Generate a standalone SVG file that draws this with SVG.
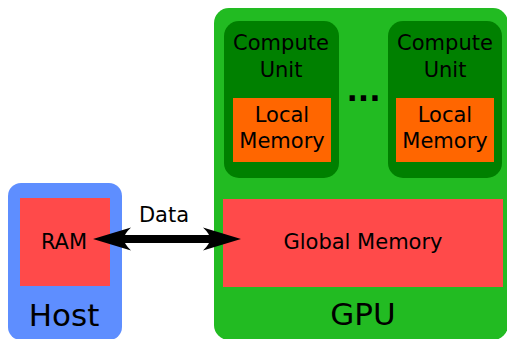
<svg xmlns="http://www.w3.org/2000/svg" width="507" height="339" viewBox="0 0 507 339">
<style>
text{font-family:"DejaVu Sans","Liberation Sans",sans-serif;fill:#000;text-anchor:middle}
.t20{font-size:21px}
.t30{font-size:31px}
.mem{fill:#ff4a4a}
.cu{fill:#008000}
.lm{fill:#ff6600}
</style>
<defs>
<path id="head" d="M0,0 L-38,-11.5 Q-31,-5 -31,0 Q-31,5 -38,11.5 Z" fill="#000"/>
</defs>
<g id="host">
<rect x="8" y="183" width="114" height="157" rx="13" fill="#5e8eff"/>
<text class="t30" x="64" y="326">Host</text>
</g>
<g id="ram">
<rect class="mem" x="20" y="198" width="90" height="88"/>
<text class="t20" x="64" y="249">RAM</text>
</g>
<g id="gpu">
<rect x="214" y="8" width="294" height="332" rx="15" fill="#22bb22"/>
<text class="t30" x="363" y="325">GPU</text>
</g>
<g id="cu1">
<rect class="cu" x="224" y="21" width="115" height="157" rx="15"/>
<text class="t20" x="281" y="50">Compute</text>
<text class="t20" x="281" y="77">Unit</text>
</g>
<g id="lm1">
<rect class="lm" x="233" y="98" width="98" height="64"/>
<text class="t20" x="282" y="122">Local</text>
<text class="t20" x="282" y="148">Memory</text>
</g>
<g id="dots">
<text x="363.5" y="100.5" style="font-size:30px;font-weight:bold">...</text>
</g>
<g id="cu2">
<rect class="cu" x="388" y="21" width="114" height="157" rx="15"/>
<text class="t20" x="445" y="50">Compute</text>
<text class="t20" x="445" y="77">Unit</text>
</g>
<g id="lm2">
<rect class="lm" x="396" y="98" width="98" height="64"/>
<text class="t20" x="445" y="122">Local</text>
<text class="t20" x="445" y="148">Memory</text>
</g>
<g id="global">
<rect class="mem" x="223" y="199" width="280" height="88"/>
<text class="t20" x="363" y="249">Global Memory</text>
</g>
<g id="connectors">
<line x1="124" y1="239" x2="210" y2="239" stroke="#000" stroke-width="8"/>
<use href="#head" transform="translate(241,239)"/>
<use href="#head" transform="translate(93,239) rotate(180)"/>
<text class="t20" x="164" y="222">Data</text>
</g>
</svg>
